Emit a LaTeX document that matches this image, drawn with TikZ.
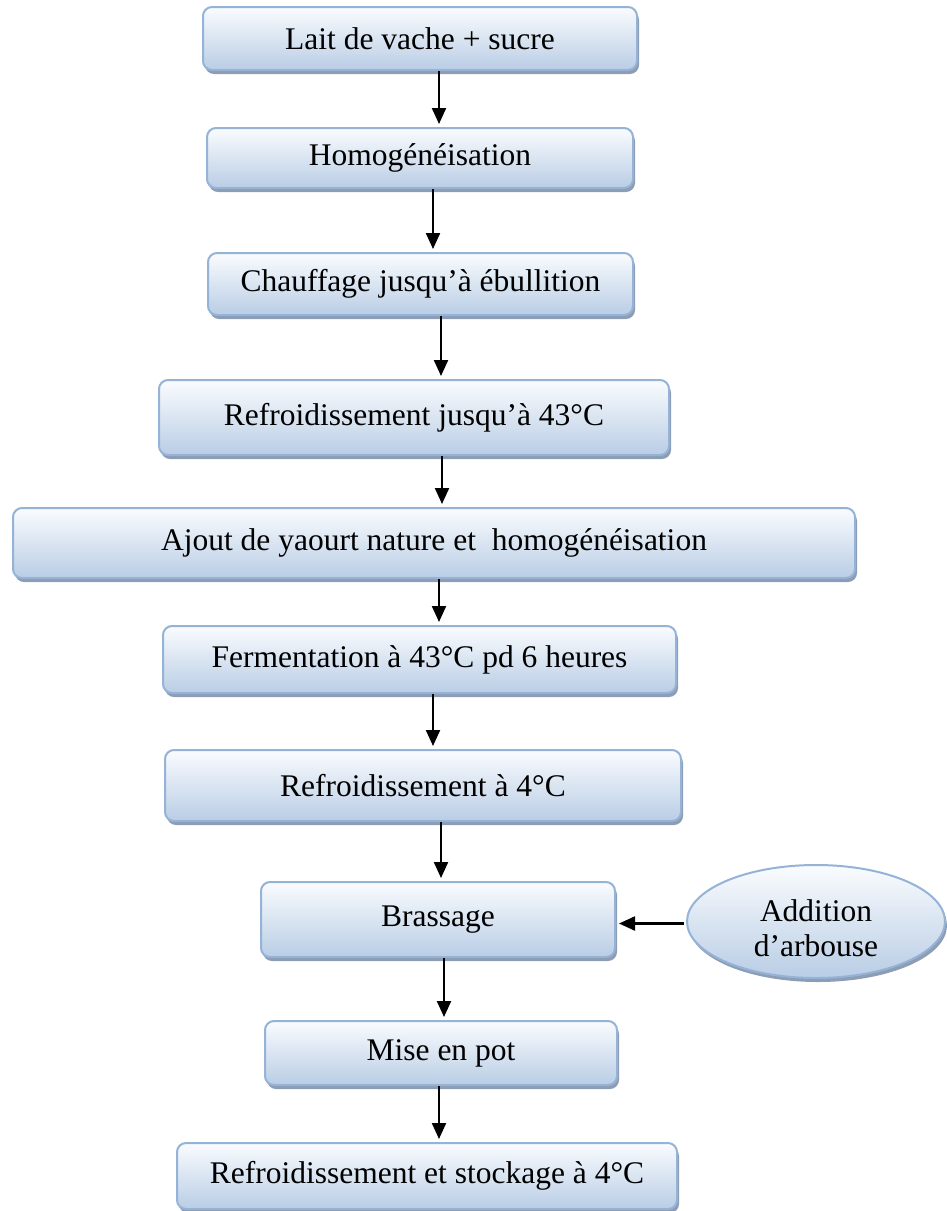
\documentclass[tikz,border=0pt]{standalone}
\usepackage{fontspec}
\setmainfont{Liberation Serif}
\usetikzlibrary{arrows.meta}
\usetikzlibrary{shapes.geometric}
\usetikzlibrary{shadows}

\definecolor{cadre}{HTML}{95B3D7}
\definecolor{haut}{HTML}{FAFCFE}
\definecolor{bas}{HTML}{B9CDE5}
\definecolor{ombre}{HTML}{8C9DB4}

\begin{document}
\begin{tikzpicture}[x=1pt,y=-1pt,>={Triangle[length=16pt,width=14pt]},
    etape/.style={draw=cadre, line width=2pt, rounded corners=9pt,
        top color=haut, bottom color=bas, inner sep=0pt,
        font=\fontsize{31.5}{35}\selectfont,
        drop shadow={shadow xshift=2pt, shadow yshift=-4pt, fill=ombre, opacity=1}},
    apport/.style={ellipse, draw=cadre, line width=2pt,
        top color=haut, bottom color=bas, inner sep=0pt,
        drop shadow={shadow xshift=2pt, shadow yshift=-4pt, fill=ombre, opacity=1}},
    fleche/.style={->, line width=2.2pt, shorten >=3pt}]

    \useasboundingbox (0,0) rectangle (947,1211);

    \node[etape, minimum width=434pt, minimum height=63pt] (lait) at (420,38.5) {Lait de vache + sucre};
    \node[etape, minimum width=426pt, minimum height=60pt] (homog) at (420,158) {Homogénéisation};
    \node[etape, minimum width=425pt, minimum height=62pt] (chauff) at (420.5,284) {Chauffage jusqu’à ébullition};
    \node[etape, minimum width=510pt, minimum height=75pt] (refr) at (414,417.5) {Refroidissement jusqu’à 43°C};
    \node[etape, minimum width=842pt, minimum height=70pt] (yaourt) at (434,543) {Ajout de yaourt nature et \ homogénéisation};
    \node[etape, minimum width=513pt, minimum height=67pt] (ferm) at (419.5,659.5) {Fermentation à 43°C pd 6 heures};
    \node[etape, minimum width=516pt, minimum height=71pt] (froid) at (423,785.5) {Refroidissement à 4°C};
    \node[etape, minimum width=354pt, minimum height=75pt] (brass) at (438,919.5) {Brassage};
    \node[etape, minimum width=352pt, minimum height=64pt] (pot) at (441,1053) {Mise en pot};
    \node[etape, minimum width=500pt, minimum height=66pt] (stock) at (427,1176) {Refroidissement et stockage à 4°C};

    \node[apport, minimum width=258pt, minimum height=113pt,
        label={[font=\fontsize{31.5}{35}\selectfont, align=center, yshift=-7pt]center:Addition\\d’arbouse}] (arb) at (816,921.5) {};

    % etapes successives
    \foreach \a/\b/\x in {lait/homog/439, homog/chauff/433, chauff/refr/441,
        refr/yaourt/442, yaourt/ferm/439, ferm/froid/433, froid/brass/441,
        brass/pot/444, pot/stock/439}
    {
        \coordinate (c) at (\x,0);
        \draw[fleche] (\a.south -| c) -- (\b.north -| c);
    }

    \draw[fleche, shorten <=2pt] ([yshift=-2pt]arb.west) -- ([yshift=-2pt]arb.west -| brass.east);

\end{tikzpicture}
\end{document}
